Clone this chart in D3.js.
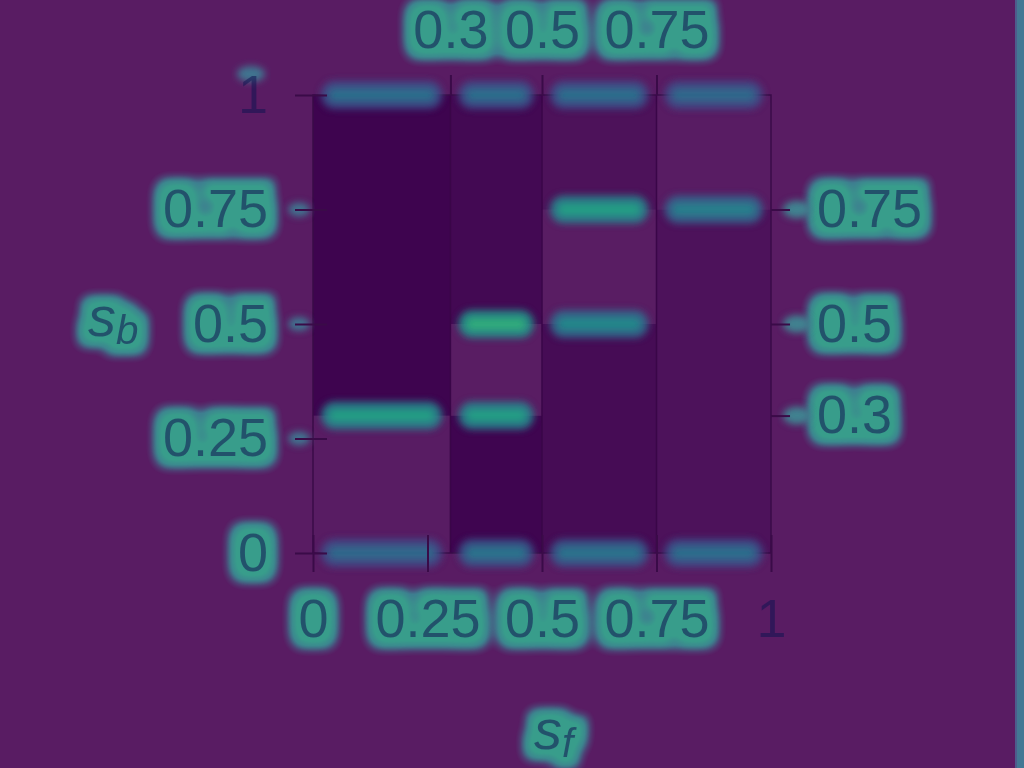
<!DOCTYPE html>
<html><head><meta charset="utf-8">
<script src="https://cdn.jsdelivr.net/npm/d3@7"></script>
<style>html,body{margin:0;padding:0;background:#591c63;overflow:hidden}</style>
</head><body>
<svg id="c" width="1024" height="768"></svg>
<script>
// ---- data ----
const sfBreaks = [0, 0.3, 0.5, 0.75, 1];          // column boundaries on s_f
const lightLo = [0, 0.3, 0.5, 0.75];              // light band lower s_b per column
const lightHi = [0.3, 0.5, 0.75, 1];              // light band upper s_b per column
const shadeBelow = [0, 0.95, 0.7, 0.45];          // darkness below light band
const shadeAbove = [1.0, 0.82, 0.48, 0];          // darkness above light band
const shadeLight = [0.06, 0.04, 0.04, 0.06];      // darkness of light band
const bottomTicks = [0, 0.25, 0.5, 0.75, 1];
const topTicks = [0.3, 0.5, 0.75];
const leftTicks = [0, 0.25, 0.5, 0.75, 1];
const rightTicks = [0.3, 0.5, 0.75];
// attention blobs along boundaries
const blobCol  = [0, 1, 1, 2, 2, 3, 0, 1, 2, 3, 0, 1, 2, 3];
const blobY    = [0.3, 0.3, 0.5, 0.75, 0.5, 0.75, 1, 1, 1, 1, 0, 0, 0, 0];
const blobHeat = [0.6, 0.6, 0.66, 0.6, 0.5, 0.47, 0.4, 0.4, 0.4, 0.38, 0.38, 0.42, 0.42, 0.4];
const xLabel = "s", xSub = "f", yLabel = "s", ySub = "b";

// ---- layout ----
const svg = d3.select("#c");
const x = d3.scaleLinear().domain([0, 1]).range([313, 771]);
const y = d3.scaleLinear().domain([0, 1]).range([553, 95]);
const shade = d3.scaleLinear().domain([0, 1]).range(["#5a1e64", "#3e044f"]);
const axisCol = "#3a0b48";
const FS = 54;
const textFill = "#101452", textOp = 0.55;

const defs = svg.append("defs");
const tg = defs.append("filter").attr("id", "tg").attr("x", "-40%").attr("y", "-80%")
  .attr("width", "180%").attr("height", "260%").attr("color-interpolation-filters", "sRGB");
tg.append("feMorphology").attr("in", "SourceAlpha").attr("operator", "dilate").attr("radius", 11).attr("result", "d1");
tg.append("feGaussianBlur").attr("in", "d1").attr("stdDeviation", 6).attr("result", "b1");
tg.append("feComponentTransfer").attr("in", "b1").attr("result", "t1")
  .append("feFuncA").attr("type", "linear").attr("slope", 1.6).attr("intercept", -0.1);
tg.append("feFlood").attr("flood-color", "#3f7891").attr("result", "c1");
tg.append("feComposite").attr("in", "c1").attr("in2", "t1").attr("operator", "in").attr("result", "g1");
tg.append("feMorphology").attr("in", "SourceAlpha").attr("operator", "dilate").attr("radius", 7).attr("result", "d2");
tg.append("feGaussianBlur").attr("in", "d2").attr("stdDeviation", 5.5).attr("result", "b2");
tg.append("feComponentTransfer").attr("in", "b2").attr("result", "t2")
  .append("feFuncA").attr("type", "linear").attr("slope", 1.5).attr("intercept", -0.1);
tg.append("feFlood").attr("flood-color", "#389d8b").attr("result", "c2");
tg.append("feComposite").attr("in", "c2").attr("in2", "t2").attr("operator", "in").attr("result", "g2");
const fm = tg.append("feMerge");
fm.append("feMergeNode").attr("in", "g1");
fm.append("feMergeNode").attr("in", "g2");

defs.append("filter").attr("id", "bl").attr("x", "-20%").attr("y", "-100%").attr("width", "140%").attr("height", "300%")
  .append("feGaussianBlur").attr("stdDeviation", 3.5);

svg.append("rect").attr("width", 1024).attr("height", 768).attr("fill", "#591c63");
// right edge strip
svg.append("rect").attr("x", 1015).attr("y", 0).attr("width", 9).attr("height", 768).attr("fill", "#427894");
svg.append("rect").attr("x", 1015).attr("y", 0).attr("width", 2).attr("height", 768).attr("fill", "#4d5c8c");

// ---- cells ----
const cells = [];
for (let i = 0; i < lightLo.length; i++) {
  cells.push({x0: sfBreaks[i], x1: sfBreaks[i + 1], y0: 0, y1: lightLo[i], v: shadeBelow[i]});
  cells.push({x0: sfBreaks[i], x1: sfBreaks[i + 1], y0: lightLo[i], y1: lightHi[i], v: shadeLight[i]});
  cells.push({x0: sfBreaks[i], x1: sfBreaks[i + 1], y0: lightHi[i], y1: 1, v: shadeAbove[i]});
}
svg.append("g").selectAll("rect").data(cells.filter(c => c.y1 > c.y0)).join("rect")
  .attr("x", d => x(d.x0)).attr("width", d => x(d.x1) - x(d.x0))
  .attr("y", d => y(d.y1)).attr("height", d => y(d.y0) - y(d.y1))
  .attr("fill", d => shade(d.v));

// column boundary lines
svg.append("g").selectAll("line").data(sfBreaks.slice(1, -1)).join("line")
  .attr("x1", d => x(d)).attr("x2", d => x(d)).attr("y1", y(1)).attr("y2", y(0))
  .attr("stroke", "#3a0648").attr("stroke-width", 1.5);

// frame
svg.append("rect").attr("x", x(0)).attr("y", y(1)).attr("width", x(1) - x(0)).attr("height", y(0) - y(1))
  .attr("fill", "none").attr("stroke", axisCol).attr("stroke-width", 1.5);

// ---- axes ----
function styleAxis(g, inner, horiz) {
  g.select(".domain").remove();
  g.selectAll(".tick line").attr("stroke", axisCol).attr("stroke-width", 2);
  if (inner) g.selectAll(".tick line").each(function () {
    const l = d3.select(this);
    if (horiz) l.attr("y1", -inner * Math.sign(+l.attr("y2") || 1));
    else l.attr("x1", -inner * Math.sign(+l.attr("x2") || 1));
  });
  g.selectAll(".tick text").attr("font-family", "Liberation Sans, Arial, sans-serif")
    .attr("font-size", FS).attr("fill", textFill).attr("fill-opacity", textOp);
}
const axes = [
  {a: d3.axisBottom(x).tickValues(bottomTicks).tickSize(19).tickPadding(27), t: `translate(0,${y(0)})`, inner: 18, horiz: true},
  {a: d3.axisTop(x).tickValues(topTicks).tickSize(20).tickPadding(27), t: `translate(0,${y(1)})`, inner: 0, horiz: true},
  {a: d3.axisLeft(y).tickValues(leftTicks).tickSize(18).tickPadding(27), t: `translate(${x(0)},0)`, inner: 14, horiz: false},
  {a: d3.axisRight(y).tickValues(rightTicks).tickSize(19).tickPadding(27), t: `translate(${x(1)},0)`, inner: 0, horiz: false}
];
axes.forEach(o => o.a.tickFormat(d => String(d)));

// glow layer
const glowLayer = svg.append("g");
axes.forEach(o => {
  const g = glowLayer.append("g").attr("transform", o.t).attr("filter", "url(#tg)").call(o.a);
  g.select(".domain").remove();
  g.selectAll(".tick line").remove();
  g.selectAll(".tick text").attr("font-family", "Liberation Sans, Arial, sans-serif").attr("font-size", FS).attr("fill", "#000");
  g.selectAll(".tick").filter(d => d === 1).remove();
});
function title(g, tx, ty, main, sub, sz) {
  const t = g.append("text").attr("x", tx).attr("y", ty)
    .attr("font-family", "Liberation Sans, Arial, sans-serif").attr("font-style", "italic").attr("font-size", sz);
  t.append("tspan").text(main);
  t.append("tspan").attr("font-size", sz * 0.72).attr("dy", 8).text(sub);
  return t;
}
const tgG = glowLayer.append("g").attr("filter", "url(#tg)");
title(tgG, 88, 336, yLabel, ySub, 56).attr("fill", "#000");
title(tgG, 534, 749, xLabel, xSub, 56).attr("fill", "#000");
// small tick blobs
svg.append("g").attr("filter", "url(#bl)").selectAll("ellipse").data([0.25, 0.5, 0.75]).join("ellipse")
  .attr("cx", x(0) - 14).attr("cy", d => y(d)).attr("rx", 11).attr("ry", 7).attr("fill", "#3f7590");
svg.append("g").attr("filter", "url(#bl)").selectAll("ellipse").data(rightTicks).join("ellipse")
  .attr("cx", x(1) + 26).attr("cy", d => y(d)).attr("rx", 14).attr("ry", 9).attr("fill", "#3f8290");
svg.append("ellipse").attr("filter", "url(#bl)").attr("cx", 251).attr("cy", 74).attr("rx", 14).attr("ry", 8).attr("fill", "#3f7590");

// boundary blobs
const blobs = blobCol.map((c, i) => ({c, v: blobY[i], h: blobHeat[i]}));
const bg = svg.append("g").attr("filter", "url(#bl)");
bg.selectAll("rect.o").data(blobs).join("rect").attr("class", "o")
  .attr("x", d => x(sfBreaks[d.c]) + 8).attr("width", d => x(sfBreaks[d.c + 1]) - x(sfBreaks[d.c]) - 16)
  .attr("y", d => y(d.v) - 14).attr("height", 28).attr("rx", 14)
  .attr("fill", d => d3.interpolateViridis(d.h - 0.14)).attr("opacity", 0.85);
bg.selectAll("rect.i").data(blobs).join("rect").attr("class", "i")
  .attr("x", d => x(sfBreaks[d.c]) + 16).attr("width", d => x(sfBreaks[d.c + 1]) - x(sfBreaks[d.c]) - 32)
  .attr("y", d => y(d.v) - 6).attr("height", 12).attr("rx", 6)
  .attr("fill", d => d3.interpolateViridis(d.h)).attr("opacity", 0.8);

// actual axes
axes.forEach(o => {
  const g = svg.append("g").attr("transform", o.t).call(o.a);
  styleAxis(g, o.inner, o.horiz);
});
title(svg, 88, 336, yLabel, ySub, 56).attr("fill", textFill).attr("fill-opacity", textOp);
title(svg, 534, 749, xLabel, xSub, 56).attr("fill", textFill).attr("fill-opacity", textOp);
</script>
</body></html>
